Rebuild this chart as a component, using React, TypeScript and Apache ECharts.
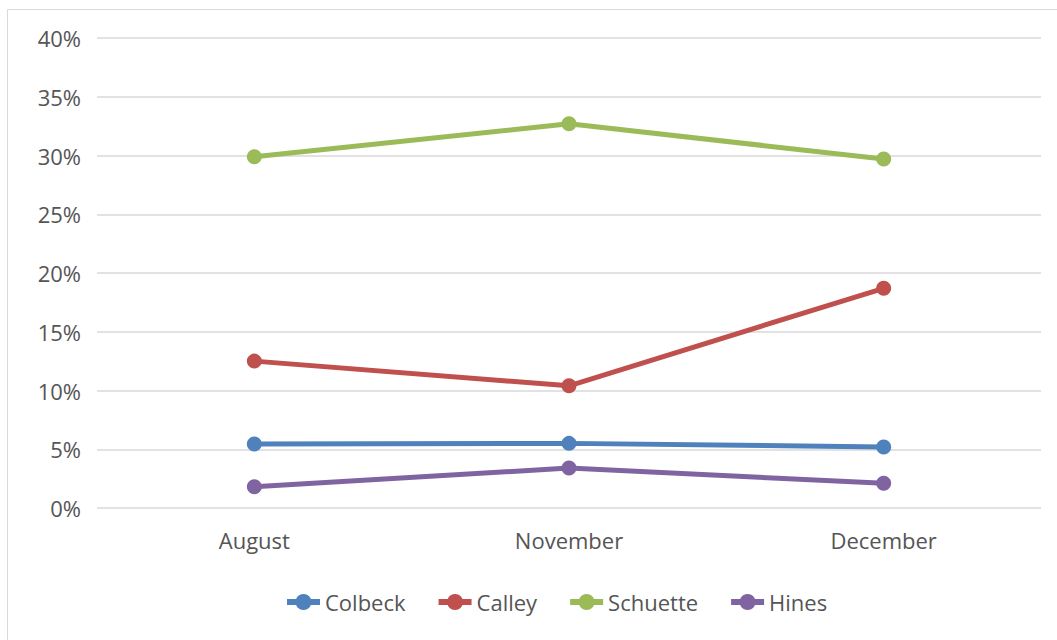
import React, { useEffect, useRef } from "react";
import * as echarts from "echarts";

const categories = ["August", "November", "December"];
const colbeck = [5.45, 5.5, 5.2];
const calley = [12.5, 10.4, 18.7];
const schuette = [29.9, 32.7, 29.7];
const hines = [1.8, 3.4, 2.1];
const seriesNames = ["Colbeck", "Calley", "Schuette", "Hines"];
const colors = ["#4F81BD", "#C0504D", "#9BBB59", "#8064A2"];

export default function App() {
  const ref = useRef<HTMLDivElement>(null);
  useEffect(() => {
    const chart = echarts.init(ref.current!, null, { renderer: "svg" });
    const data = [colbeck, calley, schuette, hines];
    chart.setOption({
      animation: false,
      backgroundColor: "#ffffff",
      textStyle: { fontFamily: "Open Sans" },
      graphic: [
        {
          type: "rect",
          shape: { x: 7.5, y: 9.5, width: 1100, height: 700 },
          style: { fill: "none", stroke: "#d9d9d9", lineWidth: 1 },
          silent: true,
        },
      ],
      grid: { left: 97, right: 16, top: 38, bottom: 132 },
      legend: {
        top: 586,
        left: 279,
        itemWidth: 33,
        itemHeight: 20,
        itemGap: 30,
        lineStyle: { width: 6 },
        textStyle: { fontSize: 22, color: "#555555", fontFamily: "Open Sans", padding: [0, 0, 0, 0] },
        data: seriesNames,
      },
      xAxis: {
        type: "category",
        data: categories,
        boundaryGap: true,
        axisLine: { show: false },
        axisTick: { show: false },
        axisLabel: { fontSize: 22, color: "#555555", margin: 21, fontFamily: "Open Sans" },
      },
      yAxis: {
        type: "value",
        min: 0,
        max: 40,
        interval: 5,
        axisLine: { show: false },
        axisTick: { show: false },
        axisLabel: {
          formatter: "{value}%",
          fontSize: 22,
          color: "#555555",
          margin: 16,
          fontFamily: "Open Sans",
        },
        splitLine: { lineStyle: { color: "#d9d9d9", width: 1.5 } },
      },
      series: seriesNames.map((name, i) => ({
        name,
        type: "line",
        data: data[i],
        symbol: "circle",
        symbolSize: 15,
        lineStyle: { width: 5, color: colors[i] },
        itemStyle: { color: colors[i] },
      })),
    });
    return () => chart.dispose();
  }, []);
  return (
    <div
      ref={ref}
      style={{ position: "absolute", left: 0, top: 0, width: 1057, height: 640 }}
    />
  );
}
